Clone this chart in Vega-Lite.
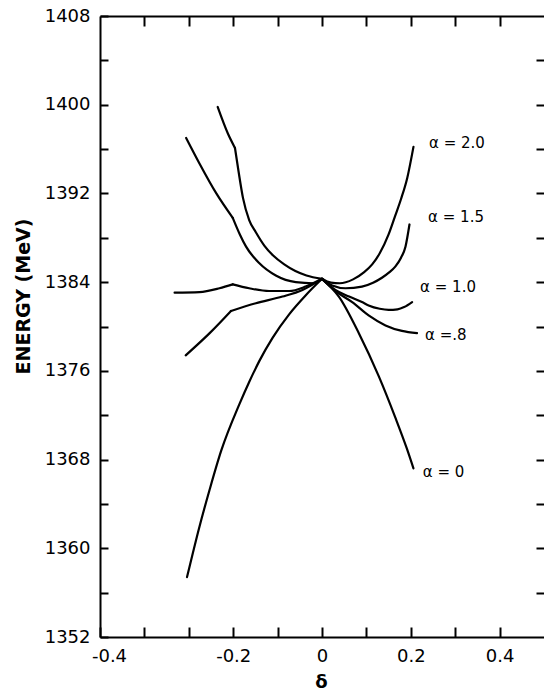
{
  "$schema": "https://vega.github.io/schema/vega-lite/v6.json",
  "width": 444,
  "height": 621,
  "autosize": "none",
  "padding": {"left": 100, "top": 16, "right": 0, "bottom": 55},
  "background": "white",
  "config": {
    "view": {"stroke": null},
    "axis": {
      "domainColor": "black", "domainWidth": 2,
      "tickColor": "black", "tickWidth": 2,
      "labelColor": "black", "labelFont": "DejaVu Sans", "labelFontSize": 18,
      "titleColor": "black", "titleFont": "DejaVu Sans", "grid": false
    }
  },
  "datasets": {
    "curves": [
      {"alpha": "2.0", "segment": "2.0a", "delta": -0.235, "energy": 1399.8},
      {"alpha": "2.0", "segment": "2.0a", "delta": -0.212, "energy": 1397.4},
      {"alpha": "2.0", "segment": "2.0a", "delta": -0.196, "energy": 1396.1},
      {"alpha": "2.0", "segment": "2.0b", "delta": -0.196, "energy": 1396.1},
      {"alpha": "2.0", "segment": "2.0b", "delta": -0.188, "energy": 1394.0},
      {"alpha": "2.0", "segment": "2.0b", "delta": -0.178, "energy": 1391.6},
      {"alpha": "2.0", "segment": "2.0b", "delta": -0.164, "energy": 1389.6},
      {"alpha": "2.0", "segment": "2.0b", "delta": -0.149, "energy": 1388.5},
      {"alpha": "2.0", "segment": "2.0b", "delta": -0.130, "energy": 1387.3},
      {"alpha": "2.0", "segment": "2.0b", "delta": -0.110, "energy": 1386.4},
      {"alpha": "2.0", "segment": "2.0b", "delta": -0.085, "energy": 1385.6},
      {"alpha": "2.0", "segment": "2.0b", "delta": -0.060, "energy": 1385.0},
      {"alpha": "2.0", "segment": "2.0b", "delta": -0.035, "energy": 1384.6},
      {"alpha": "2.0", "segment": "2.0b", "delta": 0.0, "energy": 1384.3},
      {"alpha": "2.0", "segment": "2.0c", "delta": 0.0, "energy": 1384.3},
      {"alpha": "2.0", "segment": "2.0c", "delta": 0.020, "energy": 1383.95},
      {"alpha": "2.0", "segment": "2.0c", "delta": 0.040, "energy": 1383.9},
      {"alpha": "2.0", "segment": "2.0c", "delta": 0.070, "energy": 1384.25},
      {"alpha": "2.0", "segment": "2.0c", "delta": 0.095, "energy": 1384.9},
      {"alpha": "2.0", "segment": "2.0c", "delta": 0.113, "energy": 1385.6},
      {"alpha": "2.0", "segment": "2.0c", "delta": 0.130, "energy": 1386.6},
      {"alpha": "2.0", "segment": "2.0c", "delta": 0.150, "energy": 1388.3},
      {"alpha": "2.0", "segment": "2.0c", "delta": 0.165, "energy": 1390.0},
      {"alpha": "2.0", "segment": "2.0c", "delta": 0.178, "energy": 1391.5},
      {"alpha": "2.0", "segment": "2.0c", "delta": 0.192, "energy": 1393.4},
      {"alpha": "2.0", "segment": "2.0c", "delta": 0.206, "energy": 1396.2},

      {"alpha": "1.5", "segment": "1.5a", "delta": -0.306, "energy": 1397.0},
      {"alpha": "1.5", "segment": "1.5a", "delta": -0.276, "energy": 1394.7},
      {"alpha": "1.5", "segment": "1.5a", "delta": -0.238, "energy": 1392.0},
      {"alpha": "1.5", "segment": "1.5a", "delta": -0.201, "energy": 1389.8},
      {"alpha": "1.5", "segment": "1.5b", "delta": -0.201, "energy": 1389.8},
      {"alpha": "1.5", "segment": "1.5b", "delta": -0.185, "energy": 1388.3},
      {"alpha": "1.5", "segment": "1.5b", "delta": -0.171, "energy": 1387.2},
      {"alpha": "1.5", "segment": "1.5b", "delta": -0.141, "energy": 1385.7},
      {"alpha": "1.5", "segment": "1.5b", "delta": -0.104, "energy": 1384.6},
      {"alpha": "1.5", "segment": "1.5b", "delta": -0.059, "energy": 1384.0},
      {"alpha": "1.5", "segment": "1.5b", "delta": -0.020, "energy": 1383.9},
      {"alpha": "1.5", "segment": "1.5b", "delta": 0.0, "energy": 1384.3},
      {"alpha": "1.5", "segment": "1.5c", "delta": 0.0, "energy": 1384.3},
      {"alpha": "1.5", "segment": "1.5c", "delta": 0.023, "energy": 1383.7},
      {"alpha": "1.5", "segment": "1.5c", "delta": 0.053, "energy": 1383.45},
      {"alpha": "1.5", "segment": "1.5c", "delta": 0.090, "energy": 1383.6},
      {"alpha": "1.5", "segment": "1.5c", "delta": 0.115, "energy": 1383.95},
      {"alpha": "1.5", "segment": "1.5c", "delta": 0.135, "energy": 1384.4},
      {"alpha": "1.5", "segment": "1.5c", "delta": 0.152, "energy": 1384.9},
      {"alpha": "1.5", "segment": "1.5c", "delta": 0.165, "energy": 1385.4},
      {"alpha": "1.5", "segment": "1.5c", "delta": 0.178, "energy": 1386.2},
      {"alpha": "1.5", "segment": "1.5c", "delta": 0.188, "energy": 1387.2},
      {"alpha": "1.5", "segment": "1.5c", "delta": 0.197, "energy": 1389.2},

      {"alpha": "1.0", "segment": "1.0a", "delta": -0.332, "energy": 1383.05},
      {"alpha": "1.0", "segment": "1.0a", "delta": -0.276, "energy": 1383.1},
      {"alpha": "1.0", "segment": "1.0a", "delta": -0.231, "energy": 1383.45},
      {"alpha": "1.0", "segment": "1.0a", "delta": -0.201, "energy": 1383.8},
      {"alpha": "1.0", "segment": "1.0b", "delta": -0.201, "energy": 1383.8},
      {"alpha": "1.0", "segment": "1.0b", "delta": -0.164, "energy": 1383.45},
      {"alpha": "1.0", "segment": "1.0b", "delta": -0.119, "energy": 1383.2},
      {"alpha": "1.0", "segment": "1.0b", "delta": -0.074, "energy": 1383.2},
      {"alpha": "1.0", "segment": "1.0b", "delta": -0.037, "energy": 1383.6},
      {"alpha": "1.0", "segment": "1.0b", "delta": 0.0, "energy": 1384.3},
      {"alpha": "1.0", "segment": "1.0c", "delta": 0.0, "energy": 1384.3},
      {"alpha": "1.0", "segment": "1.0c", "delta": 0.030, "energy": 1383.3},
      {"alpha": "1.0", "segment": "1.0c", "delta": 0.061, "energy": 1382.7},
      {"alpha": "1.0", "segment": "1.0c", "delta": 0.090, "energy": 1382.2},
      {"alpha": "1.0", "segment": "1.0c", "delta": 0.105, "energy": 1381.9},
      {"alpha": "1.0", "segment": "1.0c", "delta": 0.130, "energy": 1381.6},
      {"alpha": "1.0", "segment": "1.0c", "delta": 0.150, "energy": 1381.5},
      {"alpha": "1.0", "segment": "1.0c", "delta": 0.170, "energy": 1381.55},
      {"alpha": "1.0", "segment": "1.0c", "delta": 0.185, "energy": 1381.75},
      {"alpha": "1.0", "segment": "1.0c", "delta": 0.203, "energy": 1382.2},

      {"alpha": "0.8", "segment": "0.8a", "delta": -0.307, "energy": 1377.4},
      {"alpha": "0.8", "segment": "0.8a", "delta": -0.253, "energy": 1379.4},
      {"alpha": "0.8", "segment": "0.8a", "delta": -0.205, "energy": 1381.4},
      {"alpha": "0.8", "segment": "0.8b", "delta": -0.205, "energy": 1381.4},
      {"alpha": "0.8", "segment": "0.8b", "delta": -0.149, "energy": 1382.1},
      {"alpha": "0.8", "segment": "0.8b", "delta": -0.089, "energy": 1382.7},
      {"alpha": "0.8", "segment": "0.8b", "delta": -0.044, "energy": 1383.3},
      {"alpha": "0.8", "segment": "0.8b", "delta": 0.0, "energy": 1384.3},
      {"alpha": "0.8", "segment": "0.8c", "delta": 0.0, "energy": 1384.3},
      {"alpha": "0.8", "segment": "0.8c", "delta": 0.030, "energy": 1383.2},
      {"alpha": "0.8", "segment": "0.8c", "delta": 0.068, "energy": 1382.2},
      {"alpha": "0.8", "segment": "0.8c", "delta": 0.105, "energy": 1381.0},
      {"alpha": "0.8", "segment": "0.8c", "delta": 0.143, "energy": 1380.1},
      {"alpha": "0.8", "segment": "0.8c", "delta": 0.180, "energy": 1379.6},
      {"alpha": "0.8", "segment": "0.8c", "delta": 0.214, "energy": 1379.4},

      {"alpha": "0", "segment": "0a", "delta": -0.304, "energy": 1357.4},
      {"alpha": "0", "segment": "0a", "delta": -0.276, "energy": 1361.95},
      {"alpha": "0", "segment": "0a", "delta": -0.253, "energy": 1365.3},
      {"alpha": "0", "segment": "0a", "delta": -0.227, "energy": 1368.8},
      {"alpha": "0", "segment": "0a", "delta": -0.186, "energy": 1373.0},
      {"alpha": "0", "segment": "0a", "delta": -0.164, "energy": 1375.0},
      {"alpha": "0", "segment": "0a", "delta": -0.141, "energy": 1376.9},
      {"alpha": "0", "segment": "0a", "delta": -0.111, "energy": 1379.0},
      {"alpha": "0", "segment": "0a", "delta": -0.074, "energy": 1381.1},
      {"alpha": "0", "segment": "0a", "delta": -0.037, "energy": 1382.8},
      {"alpha": "0", "segment": "0a", "delta": 0.0, "energy": 1384.3},
      {"alpha": "0", "segment": "0b", "delta": 0.0, "energy": 1384.3},
      {"alpha": "0", "segment": "0b", "delta": 0.038, "energy": 1382.7},
      {"alpha": "0", "segment": "0b", "delta": 0.083, "energy": 1379.4},
      {"alpha": "0", "segment": "0b", "delta": 0.128, "energy": 1375.5},
      {"alpha": "0", "segment": "0b", "delta": 0.165, "energy": 1371.8},
      {"alpha": "0", "segment": "0b", "delta": 0.191, "energy": 1369.0},
      {"alpha": "0", "segment": "0b", "delta": 0.206, "energy": 1367.2}
    ],
    "labels": [
      {"label": "α = 2.0", "delta": 0.241, "energy": 1396.55},
      {"label": "α = 1.5", "delta": 0.239, "energy": 1389.9},
      {"label": "α = 1.0", "delta": 0.221, "energy": 1383.6},
      {"label": "α =.8", "delta": 0.232, "energy": 1379.2},
      {"label": "α = 0", "delta": 0.227, "energy": 1366.9}
    ]
  },
  "layer": [
    {
      "data": {"name": "curves"},
      "mark": {"type": "line", "color": "black", "strokeWidth": 2.2, "strokeJoin": "round", "strokeCap": "round", "interpolate": "monotone"},
      "encoding": {
        "x": {
          "field": "delta", "type": "quantitative",
          "scale": {"domain": [-0.5, 0.5], "nice": false, "zero": false},
          "axis": {
            "orient": "bottom", "title": "δ",
            "values": [-0.5, -0.4, -0.3, -0.2, -0.1, 0, 0.1, 0.2, 0.3, 0.4],
            "tickSize": -10, "labelPadding": 20,
            "labelExpr": "datum.value < -0.45 ? '-0.4' : ((datum.value > -0.35 && round(datum.value*10) % 2 == 0) ? (abs(datum.value) < 0.001 ? '0' : ((datum.value < 0 ? '-' : '') + format(abs(datum.value), '.1f'))) : '')",
            "labelOffset": {"condition": {"test": "datum.value < -0.45", "value": 9}, "value": 0},
            "labelFlush": false, "labelOverlap": false,
            "titleFontSize": 18, "titleFontWeight": "bold",
            "titleX": 221, "titleY": 45, "titleBaseline": "middle", "titleAlign": "center"
          }
        },
        "y": {
          "field": "energy", "type": "quantitative",
          "scale": {"domain": [1352, 1408], "nice": false, "zero": false},
          "axis": {
            "orient": "left", "title": "ENERGY (MeV)",
            "values": [1352, 1356, 1360, 1364, 1368, 1372, 1376, 1380, 1384, 1388, 1392, 1396, 1400, 1404, 1408],
            "tickSize": -8, "labelPadding": 18,
            "labelExpr": "datum.value % 8 == 0 ? format(datum.value, 'd') : ''",
            "labelFlush": false, "labelOverlap": false,
            "titleFontSize": 19, "titleFontWeight": "bold",
            "titleX": -77, "titleY": 280, "titleAlign": "center", "titleBaseline": "middle", "titleAngle": 270
          }
        },
        "detail": {"field": "segment", "type": "nominal"},
        "order": {"field": "delta", "type": "quantitative"}
      }
    },
    {
      "data": {"name": "labels"},
      "mark": {"type": "text", "align": "left", "baseline": "middle", "font": "DejaVu Sans", "fontSize": 15, "color": "black"},
      "encoding": {
        "x": {"field": "delta", "type": "quantitative", "axis": null},
        "y": {"field": "energy", "type": "quantitative", "axis": null},
        "text": {"field": "label", "type": "nominal"}
      }
    },
    {
      "data": {"name": "curves"},
      "mark": {"type": "point", "opacity": 0},
      "encoding": {
        "x": {
          "field": "delta", "type": "quantitative",
          "axis": {
            "orient": "top", "title": null, "labels": false, "domain": true,
            "values": [-0.4, -0.3, -0.2, -0.1, 0, 0.1, 0.2, 0.3, 0.4],
            "tickSize": -10
          }
        },
        "y": {
          "field": "energy", "type": "quantitative",
          "axis": {
            "orient": "right", "title": null, "labels": false, "domain": false,
            "values": [1356, 1360, 1364, 1368, 1372, 1376, 1380, 1384, 1388, 1392, 1396, 1400, 1404],
            "tickSize": -8
          }
        }
      }
    }
  ],
  "resolve": {"axis": {"x": "independent", "y": "independent"}}
}
